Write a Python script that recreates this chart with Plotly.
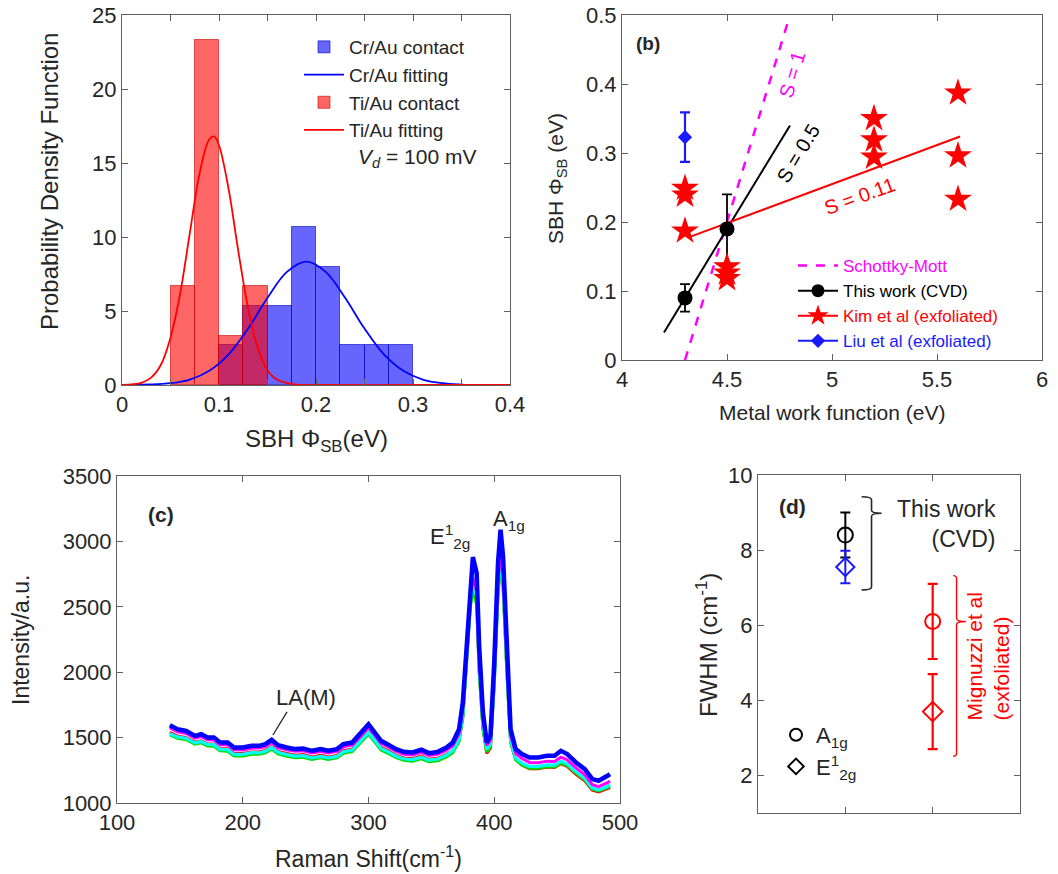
import plotly.graph_objects as go

W, H = 1058, 874
FONT = "Liberation Sans, Arial, Helvetica, sans-serif"
TXT = "#262626"
AXC = "#606060"

# ---------------- (a) histogram data ----------------
cr_bin_left = [0.100, 0.125, 0.150, 0.175, 0.200, 0.225, 0.250, 0.275]
cr_density = [2.67, 5.33, 5.33, 10.67, 8.00, 2.67, 2.67, 2.67]
ti_bin_left = [0.050, 0.075, 0.100, 0.125]
ti_density = [6.67, 23.33, 3.33, 6.67]
bin_width = 0.025

cr_fit_x = [0.0, 0.05, 0.07, 0.09, 0.11, 0.13, 0.15, 0.17, 0.19, 0.21, 0.23, 0.25, 0.27, 0.29, 0.31, 0.33, 0.35, 0.37, 0.40]
cr_fit_y = [0.0, 0.12, 0.37, 0.96, 2.07, 3.81, 5.89, 7.64, 8.33, 7.64, 5.89, 3.81, 2.07, 0.96, 0.37, 0.12, 0.03, 0.0, 0.0]
ti_fit_x = [0.0, 0.02, 0.03, 0.04, 0.05, 0.06, 0.07, 0.08, 0.09, 0.095, 0.10, 0.11, 0.12, 0.13, 0.14, 0.15, 0.16, 0.18, 0.20, 0.30, 0.40]
ti_fit_y = [0.0, 0.15, 0.50, 1.35, 3.20, 6.20, 10.3, 14.3, 16.6, 16.8, 16.2, 13.2, 9.0, 5.2, 2.5, 1.0, 0.35, 0.03, 0.0, 0.0, 0.0]

# ---------------- (b) SBH vs work function ----------------
sm_x = [4.30, 4.79]
sm_y = [0.00, 0.49]
s05_x = [4.20, 4.80]
s05_y = [0.04, 0.34]
s011_x = [4.32, 5.61]
s011_y = [0.178, 0.324]
cvd_wf = [4.3, 4.5]
cvd_sbh = [0.09, 0.19]
cvd_err = [0.02, 0.05]
kim_wf = [4.3, 4.3, 4.3, 4.5, 4.5, 4.5, 5.2, 5.2, 5.2, 5.6, 5.6, 5.6]
kim_sbh = [0.249, 0.239, 0.187, 0.135, 0.126, 0.118, 0.350, 0.319, 0.294, 0.387, 0.296, 0.233]
liu_wf = [4.3]
liu_sbh = [0.323]
liu_err = [0.036]

# ---------------- (c) Raman spectra ----------------
raman_x = [142, 148, 155, 162, 167, 172, 177, 182, 188, 193,
           200, 207, 213, 218, 223, 228, 235, 242, 248, 255,
           262, 268, 275, 280, 287, 293, 300, 305, 310, 315,
           322, 328, 335, 342, 348, 355, 362, 367, 372, 375,
           378, 381, 383, 386, 388, 391, 394, 397, 400, 403,
           405, 407, 410, 413, 417, 422, 428, 435, 442, 448,
           453, 458, 465, 472, 478, 483, 490, 492]
raman_blue = [1595, 1564, 1551, 1513, 1526, 1500, 1500, 1462, 1462, 1424,
              1424, 1437, 1437, 1450, 1483, 1442, 1424, 1412, 1417, 1399,
              1412, 1399, 1412, 1450, 1462, 1526, 1602, 1539, 1475, 1450,
              1412, 1391, 1386, 1407, 1381, 1391, 1424, 1462, 1564, 1767,
              2225, 2708, 2880, 2758, 2200, 1691, 1462, 1513, 2073, 2835,
              3089, 2886, 2200, 1564, 1412, 1374, 1348, 1348, 1361, 1361,
              1399, 1374, 1310, 1259, 1183, 1170, 1208, 1221]
raman_magenta = [1575, 1545, 1532, 1495, 1508, 1483, 1482, 1445, 1444, 1407,
                 1406, 1419, 1420, 1432, 1462, 1424, 1406, 1395, 1399, 1382,
                 1394, 1382, 1394, 1430, 1443, 1505, 1578, 1518, 1456, 1432,
                 1394, 1373, 1368, 1388, 1363, 1372, 1403, 1438, 1530, 1720,
                 2150, 2600, 2720, 2620, 2100, 1640, 1440, 1480, 1990, 2700,
                 2900, 2750, 2100, 1520, 1380, 1340, 1310, 1308, 1320, 1318,
                 1350, 1330, 1268, 1215, 1140, 1125, 1155, 1168]
raman_cyan = [1530, 1505, 1495, 1460, 1470, 1447, 1446, 1410, 1408, 1372,
              1372, 1385, 1384, 1395, 1425, 1388, 1370, 1358, 1362, 1345,
              1356, 1345, 1356, 1392, 1405, 1465, 1540, 1480, 1418, 1395,
              1358, 1338, 1332, 1350, 1328, 1336, 1366, 1400, 1490, 1680,
              2100, 2560, 2680, 2580, 2050, 1600, 1410, 1450, 1950, 2650,
              2850, 2700, 2050, 1480, 1345, 1305, 1280, 1280, 1292, 1290,
              1320, 1300, 1240, 1190, 1115, 1100, 1128, 1140]
raman_green = [1520, 1495, 1484, 1450, 1460, 1436, 1434, 1400, 1396, 1360,
               1360, 1372, 1372, 1383, 1412, 1376, 1358, 1346, 1350, 1333,
               1345, 1333, 1345, 1380, 1392, 1452, 1525, 1466, 1405, 1382,
               1346, 1326, 1320, 1338, 1316, 1323, 1352, 1385, 1470, 1650,
               2060, 2500, 2620, 2520, 2000, 1560, 1390, 1430, 1900, 2600,
               2800, 2650, 2000, 1460, 1330, 1290, 1265, 1265, 1278, 1276,
               1305, 1285, 1228, 1178, 1105, 1092, 1118, 1130]
raman_red = [1540, 1512, 1500, 1465, 1476, 1452, 1452, 1416, 1415, 1378,
             1378, 1390, 1390, 1402, 1432, 1395, 1378, 1365, 1370, 1352,
             1364, 1352, 1364, 1400, 1412, 1472, 1548, 1488, 1426, 1402,
             1364, 1344, 1338, 1358, 1334, 1342, 1372, 1400, 1480, 1660,
             2080, 2520, 2650, 2550, 2020, 1580, 1380, 1420, 1920, 2620,
             2820, 2680, 2020, 1470, 1335, 1290, 1262, 1262, 1275, 1272,
             1300, 1280, 1220, 1170, 1098, 1085, 1110, 1120]

# ---------------- (d) FWHM ----------------
fwhm_group = [1, 2]           # 1: this work (CVD), 2: Mignuzzi et al
a1g_fwhm = [8.4, 6.1]
a1g_err = [0.6, 1.0]
e2g_fwhm = [7.55, 3.7]
e2g_err = [0.43, 1.0]


def PX(x):
    return x / W


def PY(y):
    return 1 - y / H


def dx(a, b):
    return [a / W, b / W]


def dy(top, bottom):
    return [1 - bottom / H, 1 - top / H]


fig = go.Figure()

# ---- (a)
fig.add_trace(go.Bar(x=[l + bin_width / 2 for l in cr_bin_left], y=cr_density, width=bin_width,
                     marker=dict(color="rgba(0,0,255,0.6)", line=dict(color="rgba(0,0,190,0.6)", width=1)),
                     name="Cr/Au contact", xaxis="x", yaxis="y", legend="legend"))
fig.add_trace(go.Scatter(x=cr_fit_x, y=cr_fit_y, mode="lines", line=dict(color="#0000ff", width=1.8, shape="spline"),
                         name="Cr/Au fitting", xaxis="x", yaxis="y", legend="legend"))
fig.add_trace(go.Bar(x=[l + bin_width / 2 for l in ti_bin_left], y=ti_density, width=bin_width,
                     marker=dict(color="rgba(255,0,0,0.6)", line=dict(color="rgba(200,0,0,0.6)", width=1)),
                     name="Ti/Au contact", xaxis="x", yaxis="y", legend="legend"))
fig.add_trace(go.Scatter(x=ti_fit_x, y=ti_fit_y, mode="lines", line=dict(color="#ff0000", width=1.8, shape="spline"),
                         name="Ti/Au fitting", xaxis="x", yaxis="y", legend="legend"))

# ---- (b)
fig.add_trace(go.Scatter(x=sm_x, y=sm_y, mode="lines", line=dict(color="#ff00ff", width=2.5, dash="dash"),
                         showlegend=False, xaxis="x2", yaxis="y2"))
fig.add_trace(go.Scatter(x=s05_x, y=s05_y, mode="lines", line=dict(color="black", width=2),
                         showlegend=False, xaxis="x2", yaxis="y2"))
fig.add_trace(go.Scatter(x=s011_x, y=s011_y, mode="lines", line=dict(color="#ff0000", width=2),
                         showlegend=False, xaxis="x2", yaxis="y2"))
fig.add_trace(go.Scatter(x=cvd_wf, y=cvd_sbh, mode="markers",
                         marker=dict(symbol="circle", size=15, color="black"),
                         error_y=dict(type="data", array=cvd_err, color="black", thickness=1.8, width=5),
                         showlegend=False, xaxis="x2", yaxis="y2"))
fig.add_trace(go.Scatter(x=kim_wf, y=kim_sbh, mode="markers",
                         marker=dict(symbol="star", size=21, color="#ff0000", line=dict(width=0)),
                         showlegend=False, xaxis="x2", yaxis="y2"))
fig.add_trace(go.Scatter(x=liu_wf, y=liu_sbh, mode="markers",
                         marker=dict(symbol="diamond", size=11, color="#1a1aff"),
                         error_y=dict(type="data", array=liu_err, color="#1a1aff", thickness=2.2, width=5),
                         showlegend=False, xaxis="x2", yaxis="y2"))
# legend entries for (b)
fig.add_trace(go.Scatter(x=[None], y=[None], mode="lines", line=dict(color="#ff00ff", width=2.5, dash="dash"),
                         name="<span style='color:#ff00ff'>Schottky-Mott</span>", xaxis="x2", yaxis="y2", legend="legend2"))
fig.add_trace(go.Scatter(x=[None], y=[None], mode="lines+markers", line=dict(color="black", width=2),
                         marker=dict(symbol="circle", size=13, color="black"),
                         name="<span style='color:#000000'>This work (CVD)</span>", xaxis="x2", yaxis="y2", legend="legend2"))
fig.add_trace(go.Scatter(x=[None], y=[None], mode="lines+markers", line=dict(color="#ff0000", width=2),
                         marker=dict(symbol="star", size=17, color="#ff0000"),
                         name="<span style='color:#ff0000'>Kim et al (exfoliated)</span>", xaxis="x2", yaxis="y2", legend="legend2"))
fig.add_trace(go.Scatter(x=[None], y=[None], mode="lines+markers", line=dict(color="#1a1aff", width=2),
                         marker=dict(symbol="diamond", size=11, color="#1a1aff"),
                         name="<span style='color:#1a1aff'>Liu et al (exfoliated)</span>", xaxis="x2", yaxis="y2", legend="legend2"))

# ---- (c)
for ys, col, wd in [(raman_red, "#ff0000", 3), (raman_green, "#00dd00", 3), (raman_cyan, "#00ffff", 3.2),
                    (raman_magenta, "#ff00ff", 3), (raman_blue, "#0000ff", 4.5)]:
    fig.add_trace(go.Scatter(x=raman_x, y=ys, mode="lines", line=dict(color=col, width=wd),
                             showlegend=False, xaxis="x3", yaxis="y3"))

# ---- (d)
fig.add_trace(go.Scatter(x=[fwhm_group[0]], y=[a1g_fwhm[0]], mode="markers",
                         marker=dict(symbol="circle-open", size=15, color="black", line=dict(width=2, color="black")),
                         error_y=dict(type="data", array=[a1g_err[0]], color="black", thickness=2, width=5),
                         showlegend=False, xaxis="x4", yaxis="y4"))
fig.add_trace(go.Scatter(x=[fwhm_group[0]], y=[e2g_fwhm[0]], mode="markers",
                         marker=dict(symbol="diamond-open", size=14, color="#1a1aff", line=dict(width=2, color="#1a1aff")),
                         error_y=dict(type="data", array=[e2g_err[0]], color="#1a1aff", thickness=2, width=5),
                         showlegend=False, xaxis="x4", yaxis="y4"))
fig.add_trace(go.Scatter(x=[fwhm_group[1]], y=[a1g_fwhm[1]], mode="markers",
                         marker=dict(symbol="circle-open", size=15, color="#ff0000", line=dict(width=2, color="#ff0000")),
                         error_y=dict(type="data", array=[a1g_err[1]], color="#ff0000", thickness=2.2, width=5),
                         showlegend=False, xaxis="x4", yaxis="y4"))
fig.add_trace(go.Scatter(x=[fwhm_group[1]], y=[e2g_fwhm[1]], mode="markers",
                         marker=dict(symbol="diamond-open", size=15, color="#ff0000", line=dict(width=2, color="#ff0000")),
                         error_y=dict(type="data", array=[e2g_err[1]], color="#ff0000", thickness=2.2, width=5),
                         showlegend=False, xaxis="x4", yaxis="y4"))
fig.add_trace(go.Scatter(x=[None], y=[None], mode="markers",
                         marker=dict(symbol="circle-open", size=12, color="black", line=dict(width=2, color="black")),
                         name="A<sub>1g</sub>", xaxis="x4", yaxis="y4", legend="legend3"))
fig.add_trace(go.Scatter(x=[None], y=[None], mode="markers",
                         marker=dict(symbol="diamond-open", size=12, color="black", line=dict(width=2, color="black")),
                         name="E<sup>1</sup><sub>2g</sub>", xaxis="x4", yaxis="y4", legend="legend3"))


def axis(domain, rng, **kw):
    d = dict(domain=domain, range=rng, showline=True, linecolor=AXC, linewidth=1, mirror="ticks",
             ticks="inside", ticklen=6, tickcolor=AXC, tickwidth=1, automargin=False,
             tickfont=dict(size=22, color=TXT, family=FONT), showgrid=False, zeroline=False,
             exponentformat="none", separatethousands=False)
    d.update(kw)
    return d


fig.update_layout(
    template="none",
    width=W, height=H, margin=dict(l=0, r=0, t=0, b=0, pad=0, autoexpand=False),
    paper_bgcolor="white", plot_bgcolor="white", barmode="overlay", bargap=0,
    font=dict(family=FONT, color=TXT),
    xaxis=axis(dx(122, 510), [0, 0.4], anchor="y", tickvals=[0, 0.1, 0.2, 0.3, 0.4],
               ticktext=["0", "0.1", "0.2", "0.3", "0.4"],
               minor=dict(dtick=0.05, ticks="inside", ticklen=6, tickcolor=AXC)),
    yaxis=axis(dy(15, 385), [0, 25], anchor="x", tickvals=[0, 5, 10, 15, 20, 25]),
    xaxis2=axis(dx(622, 1042), [4, 6], anchor="y2", tickvals=[4, 4.5, 5, 5.5, 6]),
    yaxis2=axis(dy(15, 360), [0, 0.5], anchor="x2", tickvals=[0, 0.1, 0.2, 0.3, 0.4, 0.5],
                ticktext=["0", "0.1", "0.2", "0.3", "0.4", "0.5"]),
    xaxis3=axis(dx(117, 620), [100, 500], anchor="y3", tickvals=[100, 200, 300, 400, 500]),
    yaxis3=axis(dy(476, 803), [1000, 3500], anchor="x3", tickvals=[1000, 1500, 2000, 2500, 3000, 3500]),
    xaxis4=axis(dx(758, 1020), [0, 3], anchor="y4", tickvals=[1, 2], showticklabels=False),
    yaxis4=axis(dy(475, 813), [1, 10], anchor="x4", tickvals=[2, 4, 6, 8, 10]),
    legend=dict(x=PX(299), y=PY(28), xanchor="left", yanchor="top", bgcolor="rgba(0,0,0,0)",
                font=dict(size=19, family=FONT, color=TXT), tracegroupgap=0, itemwidth=40),
    legend2=dict(x=PX(793), y=PY(248), xanchor="left", yanchor="top", bgcolor="rgba(0,0,0,0)",
                 font=dict(size=17, family=FONT, color=TXT), tracegroupgap=0, itemwidth=40),
    legend3=dict(x=PX(776), y=PY(714), xanchor="left", yanchor="top", bgcolor="rgba(0,0,0,0)",
                 font=dict(size=22, family=FONT, color=TXT), tracegroupgap=0, itemwidth=30),
)


def A(text, x, y, xref="paper", yref="paper", size=22, color=TXT, angle=0, xanchor="center", align="center"):
    return dict(text=text, x=x, y=y, xref=xref, yref=yref, showarrow=False, textangle=angle,
                xanchor=xanchor, yanchor="middle", align=align, font=dict(size=size, color=color, family=FONT))


ann = [
    # axis titles
    A("Probability Density Function", PX(49), PY(182), size=24, angle=-90),
    A("SBH \u03a6<sub>SB</sub>(eV)", PX(316), PY(440), size=24),
    A("SBH \u03a6<sub>SB</sub> (eV)", PX(557), PY(179), size=21, angle=-90),
    A("Metal work function (eV)", PX(832), PY(412), size=21),
    A("Intensity/a.u.", PX(21), PY(640), size=23, angle=-90),
    A("Raman Shift(cm<sup>-1</sup>)", PX(368), PY(857), size=23),
    A("FWHM (cm<sup>-1</sup>)", PX(707), PY(645), size=24, angle=-90),
    # (a)
    A("<i>V</i><sub><i>d</i></sub> = 100 mV", PX(356), PY(158), size=21, xanchor="left"),
    # (b)
    A("<b>(b)</b>", 4.125, 0.459, "x2", "y2", size=19),
    A("S = 1", 4.81, 0.413, "x2", "y2", size=20, color="#ff00ff", angle=-73),
    A("S = 0.5", 4.84, 0.300, "x2", "y2", size=20, color="black", angle=-59),
    A("S = 0.11", 5.133, 0.237, "x2", "y2", size=20, color="#ff0000", angle=-20),
    # (c)
    A("<b>(c)</b>", 135, 3203, "x3", "y3", size=21),
    A("E<sup>1</sup><sub>2g</sub>", 365, 3040, "x3", "y3", size=22),
    A("A<sub>1g</sub>", 412, 3160, "x3", "y3", size=22),
    A("LA(M)", 250, 1810, "x3", "y3", size=22),
    # (d)
    A("<b>(d)</b>", 0.39, 9.15, "x4", "y4", size=21),
    A("This work<br>(CVD)", 2.75, 8.70, "x4", "y4", size=23, xanchor="right", align="right"),
    A("Mignuzzi et al<br>(exfoliated)", 2.63, 5.16, "x4", "y4", size=21, color="#ff0000", angle=-90, align="left"),
]
fig.update_layout(annotations=ann)

# leader line for LA(M) and brackets in (d)
la_line_x = [235.2, 224.0]
la_line_y = [1696, 1520]
br_black = dict(x_arm=1.187, x_mid=1.30, x_tip=1.415, y_top=9.42, y_tip=8.98, y_bot=6.94)
br_red = dict(x_arm=2.235, x_mid=2.274, x_tip=2.38, y_top=7.32, y_tip=6.10, y_bot=2.51)


def bracket_path(b, r):
    return (f"M {b['x_arm']},{b['y_top']} Q {b['x_mid']},{b['y_top']} {b['x_mid']},{b['y_top'] - r} "
            f"L {b['x_mid']},{b['y_tip'] + r} Q {b['x_mid']},{b['y_tip']} {b['x_tip']},{b['y_tip']} "
            f"Q {b['x_mid']},{b['y_tip']} {b['x_mid']},{b['y_tip'] - r} "
            f"L {b['x_mid']},{b['y_bot'] + r} Q {b['x_mid']},{b['y_bot']} {b['x_arm']},{b['y_bot']}")


shapes = [
    dict(type="line", xref="x3", yref="y3", x0=la_line_x[0], y0=la_line_y[0], x1=la_line_x[1], y1=la_line_y[1],
         line=dict(color=TXT, width=1.3)),
    dict(type="path", xref="x4", yref="y4", path=bracket_path(br_black, 0.08), line=dict(color=TXT, width=1.6)),
    dict(type="path", xref="x4", yref="y4", path=bracket_path(br_red, 0.08), line=dict(color="#ff0000", width=1.4)),
]
fig.update_layout(shapes=shapes)

fig.write_html("out.html", config={"displayModeBar": False},
               post_script="document.body.style.margin='0px';")
